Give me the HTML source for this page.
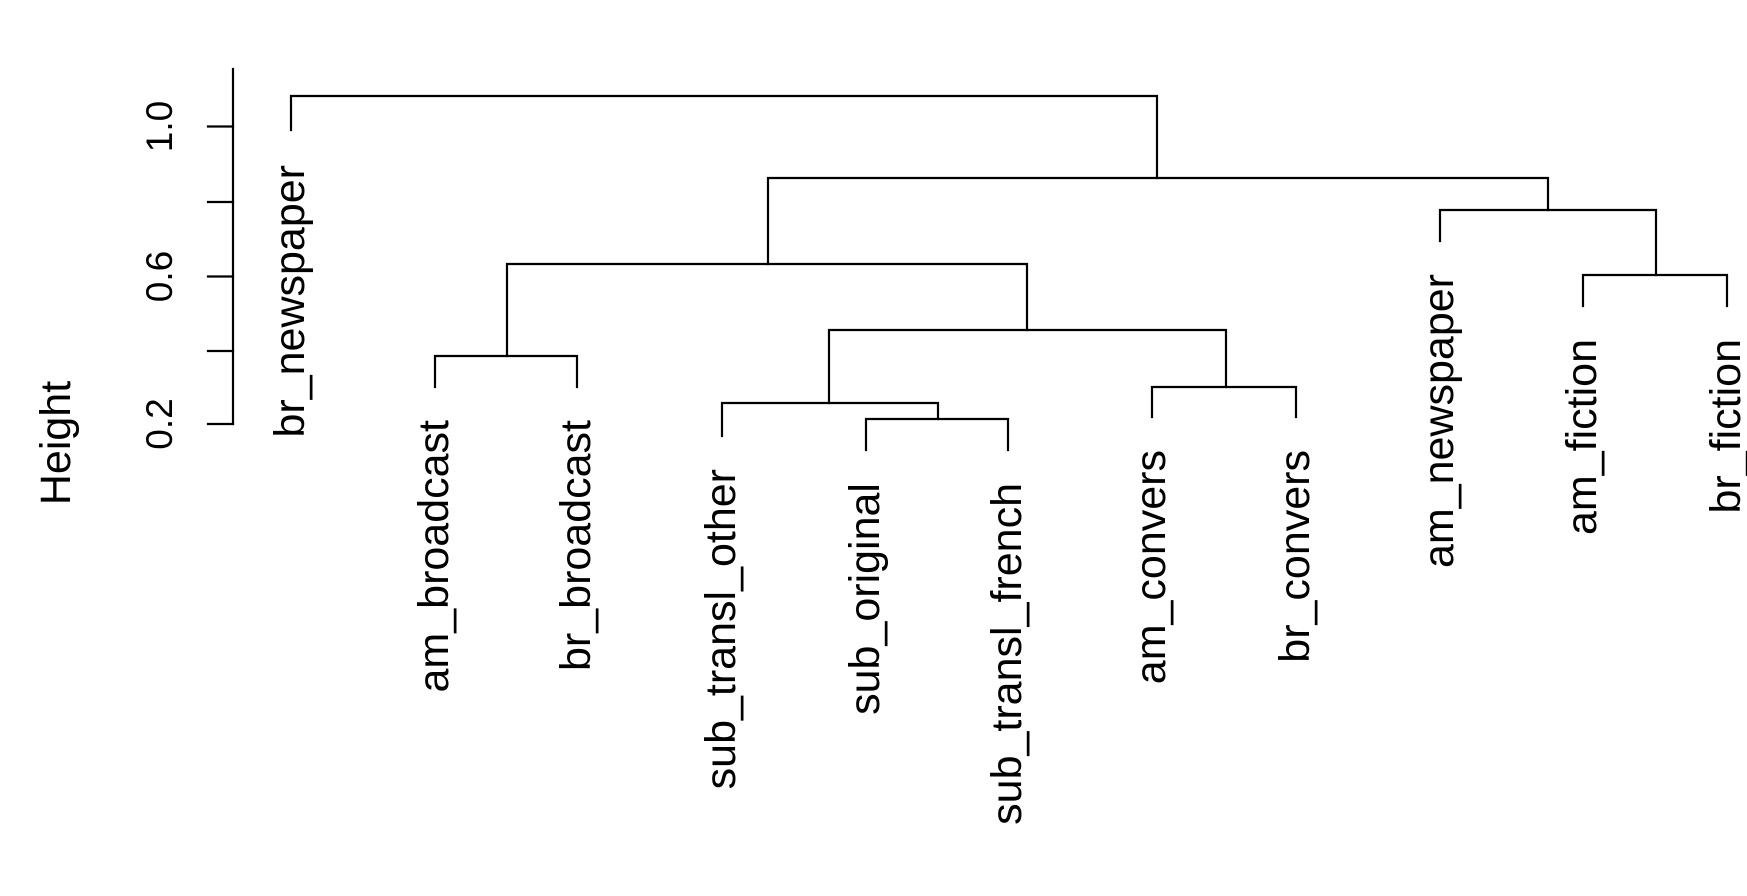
<!DOCTYPE html>
<html><head><meta charset="utf-8"><style>
html,body{margin:0;padding:0;background:#fff;}
svg{display:block;}
text{font-family:"Liberation Sans",Arial,sans-serif;fill:#000;}
</style></head><body>
<svg width="1747" height="896" viewBox="0 0 1747 896" xmlns="http://www.w3.org/2000/svg">
<g stroke="#000" stroke-width="2.2" fill="none" stroke-linecap="square">
<line x1="233" y1="69" x2="233" y2="424"/>
<line x1="208" y1="126.5" x2="233" y2="126.5"/>
<line x1="208" y1="202" x2="233" y2="202"/>
<line x1="208" y1="276.5" x2="233" y2="276.5"/>
<line x1="208" y1="351" x2="233" y2="351"/>
<line x1="208" y1="424" x2="233" y2="424"/>
<polyline points="291,130 291,96 1157,96 1157,178"/>
<polyline points="768,264 768,178 1548,178 1548,210"/>
<polyline points="507,356 507,264 1027,264 1027,330"/>
<polyline points="435,387 435,356 577,356 577,387"/>
<polyline points="829,403 829,330 1226,330 1226,387"/>
<polyline points="722,436 722,403 938,403 938,419"/>
<polyline points="866,450 866,419 1008,419 1008,450"/>
<polyline points="1152,417 1152,387 1296,387 1296,417"/>
<polyline points="1440,241 1440,210 1656,210 1656,275"/>
<polyline points="1583,306 1583,275 1727,275 1727,306"/>
</g>
<g font-size="37" text-anchor="middle">
<text transform="translate(172,126.5) rotate(-90)">1.0</text>
<text transform="translate(172,276.5) rotate(-90)">0.6</text>
<text transform="translate(172,424) rotate(-90)">0.2</text>
</g>
<text font-size="43" text-anchor="middle" transform="translate(70,443) rotate(-90)">Height</text>
<g font-size="43" text-anchor="end">
<text transform="translate(304,165) rotate(-90)">br_newspaper</text>
<text transform="translate(448,420) rotate(-90)">am_broadcast</text>
<text transform="translate(590,420) rotate(-90)">br_broadcast</text>
<text transform="translate(735,469) rotate(-90)">sub_transl_other</text>
<text transform="translate(879,483) rotate(-90)">sub_original</text>
<text transform="translate(1021,483) rotate(-90)">sub_transl_french</text>
<text transform="translate(1165,450) rotate(-90)">am_convers</text>
<text transform="translate(1309,450) rotate(-90)">br_convers</text>
<text transform="translate(1453,274) rotate(-90)">am_newspaper</text>
<text transform="translate(1596,339) rotate(-90)">am_fiction</text>
<text transform="translate(1740,339) rotate(-90)">br_fiction</text>
</g>
</svg>
</body></html>
